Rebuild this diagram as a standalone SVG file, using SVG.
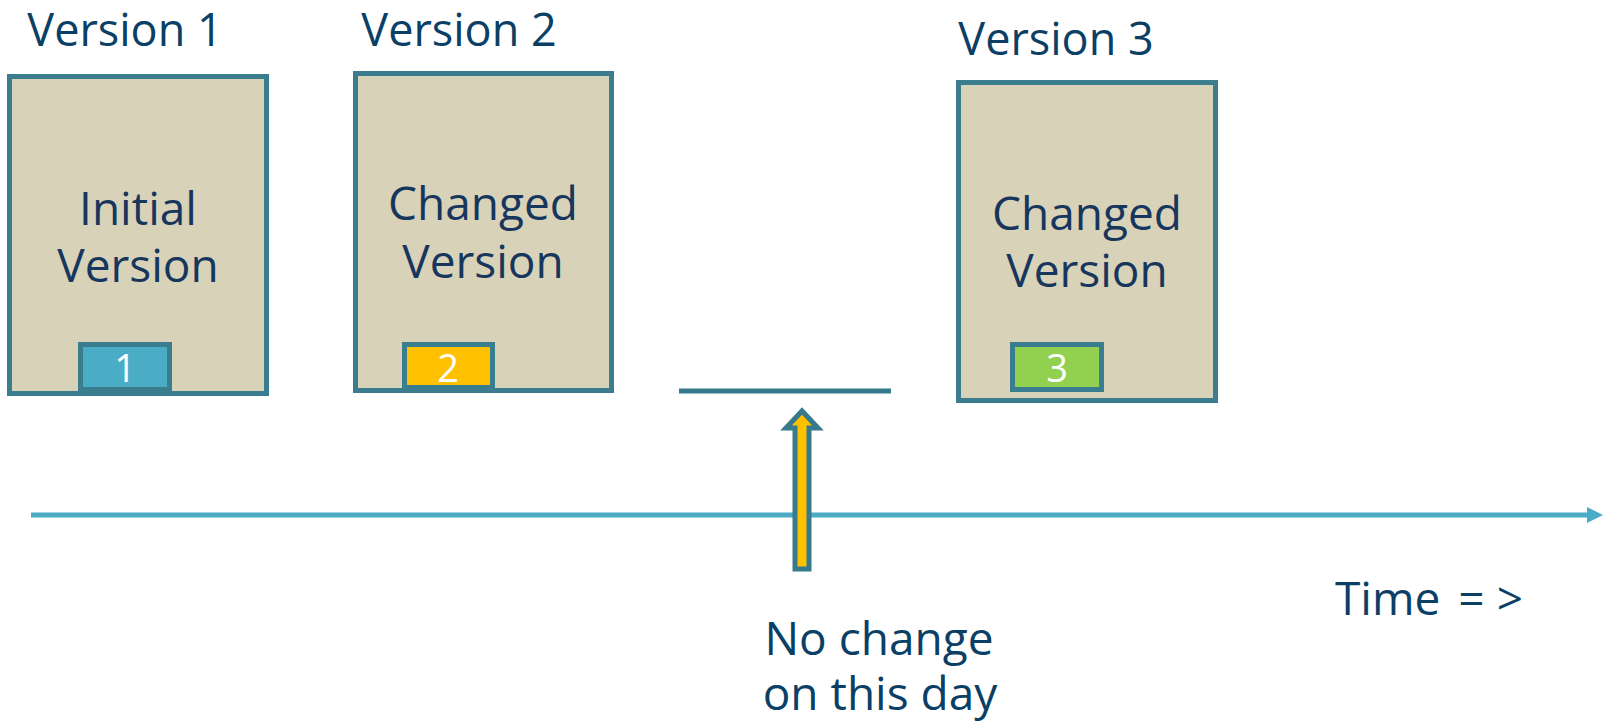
<svg xmlns="http://www.w3.org/2000/svg" width="1603" height="721" viewBox="0 0 1603 721">
<style>
.box{fill:#D8D2B8;stroke:#3A7D8E;stroke-width:5}
.badge{stroke:#3A7D8E;stroke-width:5}
.t{font-family:"Open Sans","Noto Sans",sans-serif;text-anchor:middle}
.title{font-size:45px;fill:#0B3F66}
.body{font-size:46px;fill:#17365D}
.num{font-size:38px;fill:#FFFFFF}
</style>
<defs>
<filter id="sh" x="-5%" y="-200%" width="110%" height="500%"><feGaussianBlur stdDeviation="1.5"/></filter>
</defs>
<rect width="1603" height="721" fill="#FFFFFF"/>
<g id="connectors">
<line x1="33" y1="520" x2="1592" y2="520" stroke="#000" stroke-opacity="0.18" stroke-width="5" filter="url(#sh)"/>
<line x1="31" y1="515" x2="1589" y2="515" stroke="#4BACC6" stroke-width="5"/>
<polygon points="1587,507 1603,515 1587,523" fill="#4BACC6"/>
<line x1="679" y1="391" x2="891" y2="391" stroke="#357B8D" stroke-width="5"/>
<polygon points="795,569 795,428 786,428 802,411 818,428 809,428 809,569" fill="#FFC000" stroke="#357B8D" stroke-width="5" stroke-linejoin="miter"/>
</g>
<g id="v1">
<text class="t title" x="125" y="46">Version 1</text>
<rect class="box" x="9.5" y="76.5" width="257" height="317"/>
<text class="t body"><tspan x="138" y="225">Initial</tspan><tspan x="138" y="282">Version</tspan></text>
<rect class="badge" x="80.5" y="344.5" width="89" height="45" fill="#4BACC6"/>
<text class="t num" x="125" y="382">1</text>
</g>
<g id="v2">
<text class="t title" x="459" y="46">Version 2</text>
<rect class="box" x="355.5" y="73.5" width="256" height="317"/>
<text class="t body"><tspan x="483" y="220">Changed</tspan><tspan x="483" y="278">Version</tspan></text>
<rect class="badge" x="404.5" y="344.5" width="88" height="43" fill="#FFC000"/>
<text class="t num" x="448" y="382">2</text>
</g>
<g id="v3">
<text class="t title" x="1056" y="55">Version 3</text>
<rect class="box" x="958.5" y="82.5" width="257" height="318"/>
<text class="t body"><tspan x="1087" y="230">Changed</tspan><tspan x="1087" y="287">Version</tspan></text>
<rect class="badge" x="1012.5" y="344.5" width="89" height="45" fill="#92D050"/>
<text class="t num" x="1057" y="382">3</text>
</g>
<g id="nochange">
<text class="t body" style="fill:#0B3F66"><tspan x="879" y="655">No change</tspan><tspan x="880" y="710">on this day</tspan></text>
</g>
<g id="time">
<text class="title" style="font-family:'Open Sans','Noto Sans',sans-serif;font-size:46px" x="1335" y="615">Time <tspan dx="6">=</tspan><tspan dx="12">&gt;</tspan></text>
</g>
</svg>
